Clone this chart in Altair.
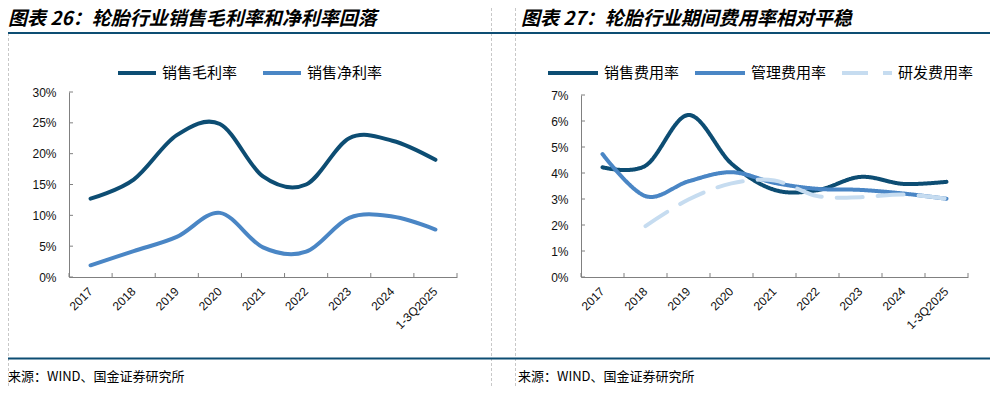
import altair as alt
import pandas as pd

# ---------------- data ----------------
categories = ["2017", "2018", "2019", "2020", "2021", "2022", "2023", "2024", "1-3Q2025"]

left_series = ["销售毛利率", "销售净利率"]
gross_margin = [12.7, 15.8, 23.0, 24.8, 16.3, 15.0, 22.5, 22.1, 19.0]
net_margin = [1.9, 4.2, 6.5, 10.4, 4.8, 4.1, 9.6, 9.8, 7.7]

right_series = ["销售费用率", "管理费用率", "研发费用率"]
selling_rate = [4.22, 4.28, 6.23, 4.36, 3.35, 3.34, 3.85, 3.58, 3.66]
admin_rate = [4.73, 3.11, 3.68, 4.03, 3.62, 3.39, 3.35, 3.21, 3.01]
rnd_rate = [None, 1.96, 2.98, 3.60, 3.71, 3.11, 3.07, 3.17, 3.01]

left_ticks = [0, 5, 10, 15, 20, 25, 30]
right_ticks = [0, 1, 2, 3, 4, 5, 6, 7]

title_left = "图表 26：轮胎行业销售毛利率和净利率回落"
title_right = "图表 27：轮胎行业期间费用率相对平稳"
source_text = "来源：WIND、国金证券研究所"

# ---------------- style ----------------
DARK = "#0D4D73"
MID = "#4A86C5"
LIGHT = "#C6DCF0"
AXIS_COLOR = "#808080"
W, H = 982, 378
AXIS_Y = 269
LABEL_FONT = "Liberation Sans"
CJK = "Noto Sans CJK SC"


def long_df(series, arrays):
    rows = []
    for s, vals in zip(series, arrays):
        for c, v in zip(categories, vals):
            if v is not None:
                rows.append({"cat": c, "series": s, "val": v})
    return pd.DataFrame(rows)


def panel(df, series, colors, dashes, xr, yr, ydom, yticks, legend_x, legend_y,
          sym_len, col_pad):
    xs = alt.Scale(type="band", domain=categories, range=xr, paddingInner=0, paddingOuter=0)
    ys = alt.Scale(domain=ydom, range=yr, nice=False, zero=True)
    xaxis = alt.Axis(title=None, orient="bottom", labelAngle=-45, labelAlign="right",
                     labelBaseline="middle", labelPadding=12, ticks=False,
                     domainColor=AXIS_COLOR, domainWidth=1, offset=AXIS_Y - H,
                     labelFont=LABEL_FONT, labelFontSize=12, labelColor="#111111", grid=False)
    yaxis = alt.Axis(title=None, orient="left", values=yticks, labelExpr="datum.value + '%'",
                     ticks=False, labelPadding=13, domainColor=AXIS_COLOR, domainWidth=1,
                     offset=-xr[0], labelFont=LABEL_FONT, labelFontSize=12,
                     labelColor="#111111", grid=False)
    leg = alt.Legend(title=None, orient="none", legendX=legend_x, legendY=legend_y,
                     direction="horizontal", symbolType="stroke", symbolStrokeWidth=4,
                     symbolSize=sym_len * sym_len, labelFont=CJK, labelFontSize=15,
                     labelColor="#000000", labelOffset=4, columnPadding=col_pad, padding=0)

    enc = dict(
        x=alt.X("cat:N", scale=xs, axis=xaxis, bandPosition=0.5, sort=categories),
        y=alt.Y("val:Q", scale=ys, axis=yaxis),
        color=alt.Color("series:N", scale=alt.Scale(domain=series, range=colors), legend=leg,
                        sort=series),
    )
    if dashes is not None:
        enc["strokeDash"] = alt.StrokeDash("series:N", scale=alt.Scale(domain=series, range=dashes),
                                           legend=leg, sort=series)
    lines = alt.Chart(df).mark_line(strokeWidth=4, interpolate="cardinal",
                                    strokeCap="round", strokeJoin="round").encode(**enc)

    cat_df = pd.DataFrame({"cat": categories})
    xt = alt.Chart(cat_df).mark_rule(color=AXIS_COLOR, strokeWidth=1).encode(
        x=alt.X("cat:N", scale=xs, axis=xaxis, bandPosition=0, sort=categories),
        y=alt.value(AXIS_Y), y2=alt.value(AXIS_Y - 4))
    xt_end = alt.Chart(pd.DataFrame({"cat": categories[-1:]})).mark_rule(
        color=AXIS_COLOR, strokeWidth=1).encode(
        x=alt.X("cat:N", scale=xs, axis=xaxis, bandPosition=1, sort=categories),
        y=alt.value(AXIS_Y), y2=alt.value(AXIS_Y - 4))
    yt = alt.Chart(pd.DataFrame({"val": yticks})).mark_rule(
        color=AXIS_COLOR, strokeWidth=1).encode(
        y=alt.Y("val:Q", scale=ys, axis=yaxis),
        x=alt.value(xr[0]), x2=alt.value(xr[0] + 4))
    return alt.layer(xt, xt_end, yt, lines)


left_df = long_df(left_series, [gross_margin, net_margin])
right_df = long_df(right_series, [selling_rate, admin_rate, rnd_rate])

left_panel = panel(left_df, left_series, [DARK, MID], None,
                   [61, 449], [AXIS_Y, 84], [0, 30], left_ticks,
                   108, 44, 38, 17)
right_panel = panel(right_df, right_series, [DARK, MID, LIGHT], [[1, 0], [1, 0], [26, 15]],
                    [573, 960], [AXIS_Y, 87], [0, 7], right_ticks,
                    538, 38, 50, 7)

one = pd.DataFrame({"t": [""]})


def text(s, x, y, size, bold=False, italic=False):
    return alt.Chart(pd.DataFrame({"t": [s]})).mark_text(
        align="left", baseline="middle", font=CJK, fontSize=size,
        fontWeight="bold" if bold else "normal",
        fontStyle="italic" if italic else "normal", color="#000000").encode(
        x=alt.value(x), y=alt.value(y), text="t:N")


def hrule(y, x1, x2, color, width, dash=None):
    kw = dict(color=color, strokeWidth=width)
    if dash is not None:
        kw["strokeDash"] = dash
    return alt.Chart(one).mark_rule(**kw).encode(x=alt.value(x1), x2=alt.value(x2), y=alt.value(y))


def vrule(x, y1, y2, color, width, dash=None):
    kw = dict(color=color, strokeWidth=width)
    if dash is not None:
        kw["strokeDash"] = dash
    return alt.Chart(one).mark_rule(**kw).encode(x=alt.value(x), y=alt.value(y1), y2=alt.value(y2))


decor = [
    vrule(0.5, 25, H, "#C8C8C8", 1, [3, 2]),
    vrule(483.5, 0, H, "#C8C8C8", 1, [3, 2]),
    vrule(507.5, 0, H, "#C8C8C8", 1, [3, 2]),
    hrule(25, 0, W, DARK, 2),
    hrule(350.5, 0, W, DARK, 2),
    text(title_left, 0, 11, 19, bold=True, italic=True),
    text(title_right, 513, 11, 19, bold=True, italic=True),
    text(source_text, 0, 369, 13),
    text(source_text, 510, 369, 13),
]

chart = alt.layer(left_panel, right_panel, *decor).resolve_scale(
    x="independent", y="independent", color="independent", strokeDash="independent"
).properties(
    width=W, height=H, padding=0, autosize=alt.AutoSizeParams(type="none")
).configure_view(strokeWidth=0)

chart.save("out.html", embed_options={"renderer": "svg", "actions": False})
